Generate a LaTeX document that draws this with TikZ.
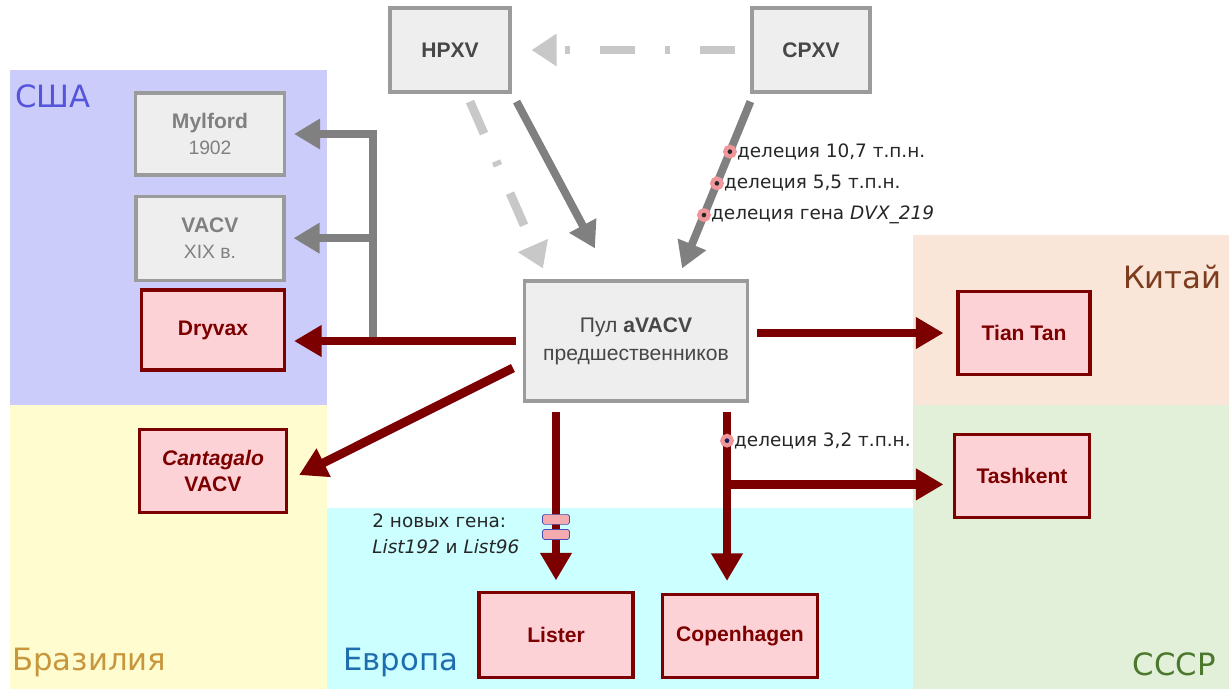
\documentclass[tikz,border=0pt]{standalone}
\usepackage{fontspec}
\setmainfont{Liberation Sans}
\newfontfamily\notefont{DejaVu Sans}
\usetikzlibrary{arrows.meta,positioning}

\definecolor{usabg}{RGB}{204,204,250}
\definecolor{brabg}{RGB}{255,253,208}
\definecolor{eurbg}{RGB}{204,255,255}
\definecolor{chnbg}{RGB}{250,230,216}
\definecolor{ussrbg}{RGB}{226,240,218}
\definecolor{usatext}{RGB}{85,85,220}
\definecolor{bratext}{RGB}{200,150,60}
\definecolor{eurtext}{RGB}{30,110,175}
\definecolor{chntext}{RGB}{125,60,30}
\definecolor{ussrtext}{RGB}{75,120,45}
\definecolor{boxgray}{RGB}{238,238,238}
\definecolor{linegray}{RGB}{155,155,155}
\definecolor{arrowgray}{RGB}{128,128,128}
\definecolor{palegray}{RGB}{200,200,200}
\definecolor{boxred}{RGB}{252,210,214}
\definecolor{vred}{RGB}{125,0,0}
\definecolor{halo}{RGB}{240,150,155}
\definecolor{navydot}{RGB}{20,30,90}

\tikzset{
  graybox/.style = {
    rectangle,
    draw=linegray,
    line width=1.8pt,
    fill=boxgray,
    align=center,
    text=black!72,
    font=\bfseries\fontsize{12}{15}\selectfont
  },
  redbox/.style = {
    rectangle,
    draw=vred,
    line width=1.8pt,
    fill=boxred,
    align=center,
    text=vred,
    font=\bfseries\fontsize{12}{15}\selectfont
  },
  flow/.style = {
    line width=5pt,
    draw=vred,
    -{Triangle[length=0.55cm,width=0.6cm]}
  },
  grayflow/.style = {
    line width=4.5pt,
    draw=arrowgray,
    -{Triangle[length=0.52cm,width=0.58cm]}
  },
  dashflow/.style = {
    line width=5pt,
    draw=palegray,
    dash pattern=on 0.7cm off 0.6cm on 0.1cm off 0.6cm,
    -{Triangle[length=0.5cm,width=0.62cm]}
  },
  delmark/.style = {
    circle,
    fill=black!85,
    draw=halo,
    line width=2.4pt,
    inner sep=0pt,
    minimum size=0.19cm
  },
  genemark/.style = {
    rectangle,
    rounded corners=1pt,
    fill=halo!80,
    draw=blue!40!gray,
    line width=0.4pt,
    inner sep=0pt,
    minimum width=0.54cm,
    minimum height=0.2cm
  },
  note/.style = {
    inner sep=0pt,
    text=black!85,
    font=\notefont\fontsize{10.5}{15}\selectfont
  },
  region/.style = {
    inner sep=0pt,
    font=\notefont\fontsize{17.5}{20}\selectfont
  }
}

\begin{document}
\begin{tikzpicture}[x=0.02cm, y=-0.02cm]

\useasboundingbox (0,0) rectangle (1229,691);
\fill[white] (0,0) rectangle (1229,691);

% Регионы
\fill[usabg] (10,70) rectangle (327,405);
\fill[brabg] (10,405) rectangle (327,689);
\fill[eurbg] (327,508) rectangle (913,689);
\fill[chnbg] (913,235) rectangle (1229,405);
\fill[ussrbg] (913,405) rectangle (1229,689);

\node[region, text=usatext, anchor=base west] (usa) at (15,107) {США};
\node[region, text=bratext, anchor=base west] (bra) at (12,670) {Бразилия};
\node[region, text=eurtext, anchor=base west] (eur) at (343,670) {Европа};
\node[region, text=chntext, anchor=base east] (chn) at (1222,288) {Китай};
\node[region, text=ussrtext, anchor=base east] (ussr) at (1216,675) {СССР};

% Предки
\node[graybox, minimum width=2.4cm, minimum height=1.68cm] (hpxv) at (450,50) {HPXV};
\node[graybox, minimum width=2.36cm, minimum height=1.68cm] (cpxv) at (811,50) {CPXV};

% Пул
\node[graybox, minimum width=4.46cm, minimum height=2.4cm, font=\fontsize{12}{16}\selectfont]
  (pool) at (636,341) {Пул \textbf{aVACV}\\предшественников};

% США
\node[graybox, text=black!50, minimum width=2.98cm, minimum height=1.64cm]
  (mylford) at (210,134) {Mylford\\{\mdseries\fontsize{11}{13}\selectfont 1902}};
\node[graybox, text=black!50, minimum width=2.96cm, minimum height=1.68cm, below=0.36cm of mylford]
  (vacv) {VACV\\{\mdseries\fontsize{11}{13}\selectfont XIX в.}};
\node[redbox, minimum width=2.86cm, minimum height=1.6cm] (dryvax) at (213,330) {Dryvax};

% Бразилия
\node[redbox, minimum width=2.94cm, minimum height=1.66cm] (cantagalo) at (213,471) {\itshape Cantagalo\\VACV};

% Китай, СССР, Европа
\node[redbox, minimum width=2.64cm, minimum height=1.66cm] (tiantan) at (1024,333) {Tian Tan};
\node[redbox, minimum width=2.7cm, minimum height=1.66cm] (tashkent) at (1022,476) {Tashkent};
\node[redbox, minimum width=3.08cm, minimum height=1.7cm] (lister) at (556,635) {Lister};
\node[redbox, minimum width=3.1cm, minimum height=1.66cm] (copenhagen) at (740,636) {Copenhagen};

% Связи между предками
\draw[dashflow, shorten <=0.3cm, shorten >=0.4cm] (cpxv.west) -- (hpxv.east);
\draw[dashflow] ([shift={(20,8)}]hpxv.south) -- ([shift={(20,-11)}]pool.north west);
\draw[grayflow] ([shift={(5,8)}]hpxv.south east) -- ([shift={(72,-31)}]pool.north west);
\draw[grayflow] ([shift={(0,8)}]cpxv.south west) -- ([shift={(-67,-11)}]pool.north east)
  node[pos=0.3, delmark] (del1) {}
  node[pos=0.49, delmark] (del2) {}
  node[pos=0.68, delmark] (del3) {};

\node[note, right=0pt of del1] {делеция 10,7 т.п.н.};
\node[note, right=0pt of del2] {делеция 5,5 т.п.н.};
\node[note, right=0pt of del3] {делеция гена \textit{DVX\_219}};

% США
\coordinate (fork) at (373,340);
\draw[grayflow, shorten >=0.16cm] (fork) |- (mylford.east);
\draw[grayflow, shorten >=0.16cm] (fork) |- (vacv.east);
\draw[flow, shorten <=0.14cm, shorten >=0.16cm] (pool.west) -- (dryvax.east |- pool.west);

% Бразилия
\draw[flow] ([shift={(-10,27)}]pool.west) -- ([shift={(11,4)}]cantagalo.east);

% Китай
\draw[flow, shorten <=0.16cm, shorten >=0.26cm] (pool.east |- tiantan.west) -- (tiantan.west);

% Европа
\draw[flow, shorten <=0.18cm, shorten >=0.21cm] (pool.south -| lister.north) -- (lister.north)
  node[pos=0.62, genemark] (gene1) {}
  node[pos=0.7, genemark] (gene2) {};
\node[note, anchor=north west, align=left] (genes) at (372,513) {2 новых гена:\\\textit{List192} и \textit{List96}};

\draw[flow, shorten <=0.18cm, shorten >=0.24cm]
  ([xshift=-0.26cm]pool.south -| copenhagen.north) -- ([xshift=-0.26cm]copenhagen.north)
  node[pos=0.43, coordinate] (tjoin) {}
  node[pos=0.2, delmark, fill=navydot] (del4) {};
\node[note, right=0pt of del4] {делеция 3,2 т.п.н.};

% СССР
\draw[flow, shorten >=0.19cm] (tjoin) -- (tjoin -| tashkent.west);

\end{tikzpicture}
\end{document}
